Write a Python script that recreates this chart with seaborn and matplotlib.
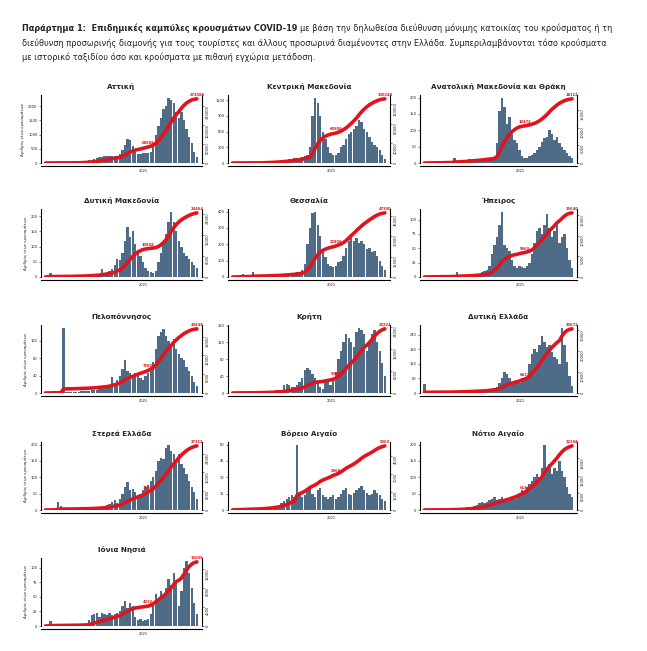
import matplotlib
matplotlib.use('Agg')
import matplotlib.pyplot as plt
from matplotlib import font_manager
from matplotlib.ticker import MaxNLocator
import seaborn as sns
import numpy as np
import pandas as pd

sns.set_style('white')
plt.rcParams['font.family'] = ['DejaVu Sans']

BAR_COLOR = '#4e6b87'
LINE_COLOR = '#e0141c'
BIN_DAYS = 8          # each value = mean daily cases over an 8-day bin, from 2020-02-26
DAY_2021 = 310        # 2021-01-01 in days since 2020-02-26
MID_BIN = 40

# region names in panel order
regions = ['Αττική', 'Κεντρική Μακεδονία', 'Ανατολική Μακεδονία και Θράκη',
           'Δυτική Μακεδονία', 'Θεσσαλία', 'Ήπειρος',
           'Πελοπόννησος', 'Κρήτη', 'Δυτική Ελλάδα',
           'Στερεά Ελλάδα', 'Βόρειο Αιγαίο', 'Νότιο Αιγαίο',
           'Ιόνια Νησιά']

attiki = [5, 10, 10, 5, 2, 2, 2, 2, 3, 5, 10, 15, 20, 30, 50, 60, 80, 100, 120, 150, 180,
          200, 220, 250, 230, 250, 260, 250, 250, 300, 450, 650, 850,
          820, 600, 400, 320, 300, 350, 350, 350, 400, 600, 1000, 1300, 1600, 1900, 2000,
          2300, 2200, 2100, 1800, 1600, 1800, 1500, 1200, 900, 700, 400, 200]
kentriki_makedonia = [2, 3, 3, 2, 1, 1, 1, 2, 3, 5, 8, 10, 15, 20, 25, 30, 35, 40, 45, 50, 60,
                      60, 70, 80, 90, 90, 100, 120, 130, 150,
                      300, 900, 1250, 1150, 900, 600, 450, 300, 200, 150, 150, 200, 300,
                      350, 450, 550, 600, 650, 700, 820, 780, 650, 600, 500, 400, 350, 300, 250, 150, 80]
anatoliki_makedonia = [0, 1, 1, 2, 1, 1, 1, 1, 2, 2, 3, 3, 15, 4, 4, 5, 5, 6, 12, 6, 6, 8, 8, 10, 10, 10, 10, 12, 15,
                       60, 160, 200, 170, 120, 140, 90, 70, 60, 40, 20, 15, 15, 20, 25, 30, 40, 50, 65, 75,
                       80, 100, 90, 70, 80, 60, 50, 40, 30, 20, 15]
dytiki_makedonia = [2, 4, 12, 3, 2, 1, 1, 1, 1, 1, 2, 2, 3, 3, 4, 4, 5, 6, 6, 8, 8, 10, 25, 12, 15,
                    20, 25, 40, 60, 55, 80, 120, 165, 130, 150, 110, 90, 70, 50, 30, 20, 15, 12, 20, 50,
                    80, 110, 140, 180, 215, 180, 150, 120, 100, 80, 70, 60, 50, 40, 30]
thessalia = [2, 3, 4, 4, 20, 3, 2, 3, 30, 4, 5, 5, 6, 6, 8, 8, 10, 10, 12, 12, 15, 15, 18, 20, 25, 30, 30, 40,
             80, 200, 300, 390, 400, 320, 250, 160, 120, 80, 70, 60, 70, 90, 100, 130, 180, 220,
             240, 220, 240, 210, 220, 200, 170, 180, 150, 160, 130, 100, 70, 40]
ipeiros = [1, 1, 2, 1, 1, 1, 1, 1, 1, 1, 1, 1, 2, 8, 2, 2, 3, 3, 4, 4, 5, 6, 6,
           8, 10, 12, 20, 40, 55, 70, 90, 114, 55, 50, 45, 30, 20, 15, 20, 18, 15, 20, 25,
           40, 60, 80, 85, 75, 90, 110, 85, 70, 80, 90, 60, 70, 75, 50, 30, 15]
peloponnisos = [1, 1, 2, 2, 2, 2, 2, 150, 2, 2, 2, 2, 3, 3, 4, 4, 5, 5, 6, 6, 8, 10, 10, 12, 12, 15,
                36, 20, 30, 40, 55, 76, 50, 45, 40, 45, 40, 35, 30, 40, 45, 50, 70, 100, 130, 140,
                146, 130, 120, 110, 125, 100, 90, 80, 75, 60, 50, 40, 25, 15]
kriti = [1, 1, 1, 1, 1, 1, 1, 1, 1, 2, 2, 2, 3, 3, 4, 5, 5, 6, 6, 8,
         18, 22, 18, 15, 15, 20, 25, 35, 55, 60, 55, 45, 35, 25, 15, 10, 25, 25, 20, 30,
         50, 80, 100, 120, 140, 130, 120, 110, 145, 155, 150, 140, 100, 120, 140, 150, 120, 100, 70, 40]
dytiki_ellada = [38, 2, 2, 2, 2, 1, 1, 1, 1, 1, 2, 2, 3, 3, 4, 4, 5, 5, 6, 6, 6, 6, 8, 8, 10,
                 12, 15, 18, 20, 25, 40, 60, 85, 80, 60, 45, 40, 45, 40,
                 60, 55, 60, 120, 160, 180, 170, 200, 235, 210, 190, 200, 170, 150, 140, 120,
                 270, 200, 130, 70, 30]
sterea_ellada = [1, 1, 2, 3, 5, 25, 12, 2, 1, 1, 1, 1, 2, 2, 3, 3, 4, 4, 5, 5, 6, 8, 10, 12, 15,
                 18, 25, 30, 20, 35, 50, 70, 87, 60, 65, 55, 45, 50, 60, 70, 75, 90, 100, 120, 150,
                 160, 155, 190, 200, 180, 170, 150, 170, 140, 130, 110, 90, 70, 55, 35]
voreio_aigaio = [1, 1, 1, 1, 1, 1, 1, 1, 1, 1, 1, 1, 2, 2, 2, 3, 3, 4,
                 5, 6, 8, 10, 12, 14, 12, 60, 15, 12, 14, 18, 20, 15, 12, 18, 20, 14, 12, 10, 12, 14,
                 10, 12, 15, 18, 20, 15, 14, 16, 18, 20, 22, 18, 16, 14, 15, 18, 16, 14, 10, 8]
notio_aigaio = [1, 1, 1, 1, 1, 1, 1, 1, 1, 1, 2, 2, 3, 3, 4, 5, 6, 8, 8, 10,
                12, 15, 20, 25, 20, 25, 30, 35, 40, 30, 35, 40, 30, 35, 30, 40, 35, 45, 50, 60,
                55, 70, 80, 90, 100, 110, 100, 130, 200, 120, 140, 110, 130, 120, 150, 120, 100, 70, 50, 40]
ionia_nisia = [1, 1, 8, 1, 1, 1, 1, 1, 1, 1, 1, 1, 1, 1, 2, 2, 3,
               10, 18, 20, 22, 15, 22, 20, 18, 22, 18, 20, 22, 25, 35, 42, 30, 40, 35, 15, 10, 12, 8, 10,
               12, 20, 40, 55, 45, 60, 50, 65, 80, 70, 90, 75, 35, 60, 100, 112, 90, 65, 40, 20]

series = [attiki, kentriki_makedonia, anatoliki_makedonia, dytiki_makedonia, thessalia, ipeiros,
          peloponnisos, kriti, dytiki_ellada, sterea_ellada, voreio_aigaio, notio_aigaio, ionia_nisia]

W, H = 647, 651
fig = plt.figure(figsize=(W / 100, H / 100), dpi=100)
fig.patch.set_facecolor('white')

row_tops = [95, 209, 325, 442, 558]
ax_h = 68
cols = [(41, 202), (228, 390), (420, 577)]


def px_axes(x0, y0, x1, y1):
    return fig.add_axes([x0 / W, 1 - y1 / H, (x1 - x0) / W, (y1 - y0) / H])


for k, (name, vals) in enumerate(zip(regions, series)):
    r, c = divmod(k, 3)
    x0, x1 = cols[c]
    y0 = row_tops[r]
    ax = px_axes(x0, y0, x1, y0 + ax_h)

    vals = np.array(vals, dtype=float)
    days = np.arange(len(vals)) * BIN_DAYS + BIN_DAYS / 2
    df = pd.DataFrame({'day': days, 'cases': vals})
    cum = np.cumsum(vals) * BIN_DAYS

    sns.barplot(data=df, x='day', y='cases', native_scale=True, color=BAR_COLOR,
                saturation=1, width=0.9, linewidth=0, errorbar=None, ax=ax)
    ax.set_ylim(0, vals.max() * 1.04)
    ax.set_xlim(-10, 492)
    ax.yaxis.set_major_locator(MaxNLocator(5))

    ax2 = ax.twinx()
    sns.lineplot(x=days, y=cum, ax=ax2, color=LINE_COLOR, linewidth=2.6, solid_capstyle='round')
    ax2.set_ylim(0, cum[-1] * 1.06)
    ax2.yaxis.set_major_locator(MaxNLocator(4))

    for i in (MID_BIN, len(vals) - 1):
        ax2.text(days[i], cum[i] + cum[-1] * 0.03, f'{int(cum[i])}', color=LINE_COLOR,
                 fontsize=2.6, fontweight='bold', ha='center', va='bottom')

    ax.set_xticks([DAY_2021])
    ax.set_xticklabels(['2021'])
    ax.set_xlabel('')
    ax.set_ylabel('Αριθμός νέων κρουσμάτων' if c == 0 else '', fontsize=2.8, labelpad=2)
    ax2.set_ylabel('')
    ax.set_title(name, fontsize=5.2, fontweight='bold', pad=4)

    for a in (ax, ax2):
        for s in a.spines.values():
            s.set_visible(False)
        a.tick_params(labelsize=2.6, length=1.5, width=0.4, pad=1, colors='#222222')
    ax.spines['left'].set_visible(True)
    ax.spines['bottom'].set_visible(True)
    ax2.spines['right'].set_visible(True)
    for s in (ax.spines['left'], ax.spines['bottom'], ax2.spines['right']):
        s.set_linewidth(0.8)
        s.set_color('black')
    ax.spines['bottom'].set_position(('outward', 2))
    ax2.tick_params(axis='y', labelrotation=90)
    ax.grid(False)
    ax2.grid(False)

# heading: bold lead + normal continuation, in a narrow face when available
installed = {f.name for f in font_manager.fontManager.ttflist}
head_family = ['Liberation Sans Narrow'] if 'Liberation Sans Narrow' in installed else ['DejaVu Sans']
line2 = ('διεύθυνση προσωρινής διαμονής για τους τουρίστες και άλλους προσωρινά διαμένοντες '
         'στην Ελλάδα. Συμπεριλαμβάνονται τόσο κρούσματα')
FS = 6.6
probe = fig.text(0, 0, line2, fontsize=FS, family=head_family)
fig.canvas.draw()
FS = FS * 582 / probe.get_window_extent().width
probe.remove()

lead = fig.text(22 / W, 1 - 28 / H, 'Παράρτημα 1:  Επιδημικές καμπύλες κρουσμάτων COVID-19',
                fontsize=FS, fontweight='bold', va='center', ha='left', family=head_family)
fig.canvas.draw()
bb = lead.get_window_extent()
fig.text((bb.x1 + 3) / W, 1 - 28 / H,
         'με βάση την δηλωθείσα διεύθυνση μόνιμης κατοικίας του κρούσματος ή τη',
         fontsize=FS, va='center', ha='left', color='#222222', family=head_family)
fig.text(22 / W, 1 - 43 / H, line2,
         fontsize=FS, va='center', ha='left', color='#222222', family=head_family)
fig.text(22 / W, 1 - 57 / H,
         'με ιστορικό ταξιδίου όσο και κρούσματα με πιθανή εγχώρια μετάδοση.',
         fontsize=FS, va='center', ha='left', color='#222222', family=head_family)

fig.savefig('out.png', dpi=100, facecolor='white')
